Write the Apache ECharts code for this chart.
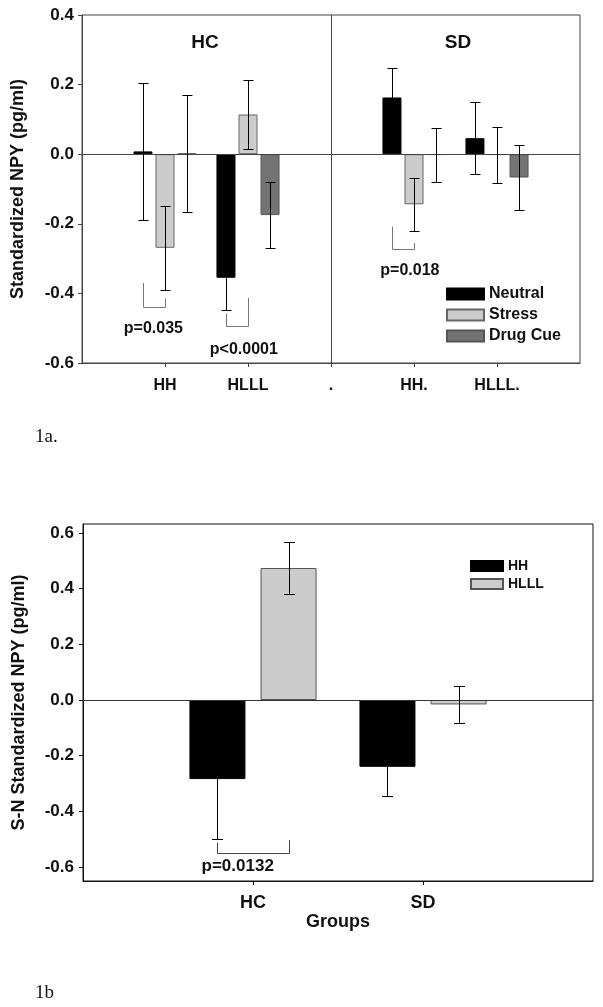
<!DOCTYPE html>
<html><head><meta charset="utf-8">
<script src="https://cdn.jsdelivr.net/npm/echarts@6/dist/echarts.min.js"></script>
<style>html,body{margin:0;padding:0;background:#fff}#c{width:603px;height:1007px}</style>
</head><body><div id="c"></div>
<script>
// ---------- Figure 1a ----------
const catsA = ['', 'HH', 'HLLL', '.', 'HH.', 'HLLL.', ''];
const seriesNamesA = ['Neutral', 'Stress', 'Drug Cue'];
const neutralA    = [null, 0.008, -0.355, null, 0.163, 0.046, null];
const neutralErrA = [null, 0.198, 0.092, null, 0.086, 0.104, null];
const stressA     = [null, -0.269, 0.114, null, -0.144, -0.002, null];
const stressErrA  = [null, 0.120, 0.098, null, 0.077, 0.080, null];
const drugA       = [null, 0.002, -0.175, null, -0.002, -0.067, null];
const drugErrA    = [null, 0.167, 0.094, null, 0.078, 0.093, null];
const ticksA = [-0.6, -0.4, -0.2, 0, 0.2, 0.4];
const groupLabelsA = ['HC', 'SD'];
const dividerCatA = 3;
// significance brackets: [category, left-leg top, right-leg top, bottom, text, text y, text shift (bands)]
const bracketsA = [
  [1, -0.370, -0.415, -0.440, 'p=0.035', -0.500, -0.14],
  [2, -0.458, -0.413, -0.494, 'p<0.0001', -0.562, -0.05],
  [4, -0.208, -0.255, -0.273, 'p=0.018', -0.334, -0.05]
];
// ---------- Figure 1b ----------
const catsB = ['', 'HC', 'SD', ''];
const seriesNamesB = ['HH', 'HLLL'];
const hhB       = [null, -0.284, -0.240, null];
const hhErrB    = [null, 0.216, 0.104, null];
const hlllB     = [null, 0.474, -0.016, null];
const hlllErrB  = [null, 0.095, 0.066, null];
const ticksB = [-0.6, -0.4, -0.2, 0, 0.2, 0.4, 0.6];
const bracketsB = [
  [1, -0.513, -0.503, -0.549, 'p=0.0132', -0.596, -0.09]
];
const panelLabels = ['1a.', '1b'];

const SANS = '"Liberation Sans", Arial, sans-serif';
const SERIF = '"Liberation Serif", "Times New Roman", serif';
const TXT = '#111';

const BW_A = 19, GAP_A = 0.16, BW_B = 56, GAP_B = 0.27;
function offset(idx, count, bw, gap) { return (idx - (count - 1) / 2) * bw * (1 + gap); }

function errData(vals, errs) {
  const out = [];
  vals.forEach((v, i) => { if (v != null) out.push([i, v, errs[i]]); });
  return out;
}
function errSeries(vals, errs, idx, count, bw, gap, axis, color, cap) {
  return {
    type: 'custom', xAxisIndex: axis, yAxisIndex: axis, z: 10, silent: true,
    encode: { x: 0, y: 1 },
    data: errData(vals, errs),
    renderItem(params, api) {
      const i = api.value(0), v = api.value(1), e = api.value(2);
      const t = api.coord([i, v + e]), b = api.coord([i, v - e]);
      const x = Math.round(t[0] + offset(idx, count, bw, gap)) + 0.5;
      const yt = Math.round(t[1]) + 0.5, yb = Math.round(b[1]) + 0.5;
      const st = { stroke: color, lineWidth: 1 };
      return { type: 'group', children: [
        { type: 'line', shape: { x1: x, y1: yt, x2: x, y2: yb }, style: st },
        { type: 'line', shape: { x1: x - cap, y1: yt, x2: x + cap, y2: yt }, style: st },
        { type: 'line', shape: { x1: x - cap, y1: yb, x2: x + cap, y2: yb }, style: st }
      ]};
    }
  };
}
function bracketSeries(list, axis, count, bw, gap, color, fs) {
  return {
    type: 'custom', xAxisIndex: axis, yAxisIndex: axis, z: 11, silent: true,
    encode: { x: 0, y: 1 },
    data: list.map(b => [b[0], b[3]]),
    renderItem(params, api) {
      const b = list[params.dataIndex];
      const cx = api.coord([b[0], 0])[0];
      const band = api.size([1, 0])[0];
      const xl = Math.round(cx + offset(0, count, bw, gap)) + 0.5, xr = Math.round(cx + offset(1, count, bw, gap)) + 0.5;
      const yl = api.coord([b[0], b[1]])[1], yr = api.coord([b[0], b[2]])[1], yb = Math.round(api.coord([b[0], b[3]])[1]) + 0.5;
      const ty = api.coord([b[0], b[5]])[1];
      const st = { stroke: color, lineWidth: 1 };
      return { type: 'group', children: [
        { type: 'line', shape: { x1: xl, y1: yl, x2: xl, y2: yb }, style: st },
        { type: 'line', shape: { x1: xl, y1: yb, x2: xr, y2: yb }, style: st },
        { type: 'line', shape: { x1: xr, y1: yr, x2: xr, y2: yb }, style: st },
        { type: 'text', x: cx + b[6] * band, y: ty, style: { text: b[4], fill: TXT, fontSize: fs, fontWeight: 'bold', fontFamily: SANS, align: 'center', verticalAlign: 'middle' } }
      ]};
    }
  };
}
// reference lines: zero line across the grid, optional vertical divider at a category
function refLines(axis, nCats, divider, color) {
  return {
    type: 'custom', xAxisIndex: axis, yAxisIndex: axis, z: 5, silent: true,
    encode: { x: 0, y: 1 },
    data: [[0, 0]],
    renderItem(params, api) {
      const a = api.coord([0, 0]), b = api.coord([nCats - 1, 0]);
      const y = Math.round(a[1]) + 0.5;
      const st = { stroke: color, lineWidth: 1 };
      const kids = [{ type: 'line', shape: { x1: a[0], y1: y, x2: b[0], y2: y }, style: st }];
      if (divider != null) {
        const cs = params.coordSys;
        const x = Math.round(api.coord([divider, 0])[0]) + 0.5;
        kids.push({ type: 'line', shape: { x1: x, y1: cs.y, x2: x, y2: cs.y + cs.height }, style: st });
      }
      return { type: 'group', children: kids };
    }
  };
}
function bar(name, data, axis, fill, border, bw, gap) {
  return { name, type: 'bar', xAxisIndex: axis, yAxisIndex: axis, data, barWidth: bw, barGap: (gap * 100) + '%',
    itemStyle: { color: fill, borderColor: border, borderWidth: 1 } };
}

const chart = echarts.init(document.getElementById('c'), null, { renderer: 'canvas' });
const lineA = '#444', lineB = '#111';

const option = {
  animation: false,
  backgroundColor: '#fff',
  grid: [
    { left: 82, top: 15, right: 23, bottom: 644, show: true, borderColor: lineA, borderWidth: 1 },
    { left: 83, top: 524, right: 10, bottom: 126, show: true, borderColor: lineB, borderWidth: 1 }
  ],
  xAxis: [
    { type: 'category', gridIndex: 0, data: catsA, boundaryGap: false,
      axisLine: { onZero: false, lineStyle: { color: lineA } },
      axisTick: { length: 4, lineStyle: { color: lineA }, interval: (i) => i >= 1 && i <= 5 },
      axisLabel: { interval: 0, margin: 15, color: TXT, fontSize: 16, fontWeight: 'bold', fontFamily: SANS },
      splitLine: { show: false } },
    { type: 'category', gridIndex: 1, data: catsB, boundaryGap: false,
      name: 'Groups', nameLocation: 'middle', nameGap: 28,
      nameTextStyle: { color: TXT, fontSize: 18, fontWeight: 'bold', fontFamily: SANS },
      axisLine: { onZero: false, lineStyle: { color: lineB } },
      axisTick: { length: 4, lineStyle: { color: lineB }, interval: (i) => i >= 1 && i <= 2 },
      axisLabel: { interval: 0, margin: 13, color: TXT, fontSize: 18, fontWeight: 'bold', fontFamily: SANS },
      splitLine: { show: false } }
  ],
  yAxis: [
    { type: 'value', gridIndex: 0, min: -0.6, max: 0.4, interval: 0.2,
      name: 'Standardized NPY (pg/ml)', nameLocation: 'middle', nameGap: 55,
      nameTextStyle: { color: TXT, fontSize: 18, fontWeight: 'bold', fontFamily: SANS },
      axisLine: { show: true, onZero: false, lineStyle: { color: lineA } },
      axisTick: { show: true, length: 4, lineStyle: { color: lineA } },
      axisLabel: { margin: 8, color: TXT, fontSize: 17, fontWeight: 'bold', fontFamily: SANS, formatter: v => v.toFixed(1) },
      splitLine: { show: false } },
    { type: 'value', gridIndex: 1, min: -0.65, max: 0.632,
      name: 'S-N Standardized NPY (pg/ml)', nameLocation: 'middle', nameGap: 55,
      nameTextStyle: { color: TXT, fontSize: 18, fontWeight: 'bold', fontFamily: SANS },
      axisLine: { show: true, onZero: false, lineStyle: { color: lineB } },
      axisTick: { show: true, length: 4, lineStyle: { color: lineB }, customValues: ticksB },
      axisLabel: { margin: 9, color: TXT, fontSize: 17, fontWeight: 'bold', fontFamily: SANS, customValues: ticksB, formatter: v => v.toFixed(1) },
      splitLine: { show: false } }
  ],
  legend: [
    { data: seriesNamesA, orient: 'vertical', left: 441, top: 281, itemWidth: 37, itemHeight: 11, itemGap: 5,
      icon: 'rect', selectedMode: false,
      textStyle: { color: TXT, fontSize: 16, fontWeight: 'bold', fontFamily: SANS } },
    { data: seriesNamesB, orient: 'vertical', left: 465, top: 554, itemWidth: 32, itemHeight: 10, itemGap: 4,
      icon: 'rect', selectedMode: false,
      textStyle: { color: TXT, fontSize: 14, fontWeight: 'bold', fontFamily: SANS } }
  ],
  graphic: [
    { type: 'text', x: 205, y: 43, style: { text: groupLabelsA[0], fill: TXT, fontSize: 19, fontWeight: 'bold', fontFamily: SANS, align: 'center', verticalAlign: 'middle' } },
    { type: 'text', x: 458, y: 43, style: { text: groupLabelsA[1], fill: TXT, fontSize: 19, fontWeight: 'bold', fontFamily: SANS, align: 'center', verticalAlign: 'middle' } },
    { type: 'text', x: 35, y: 437, style: { text: panelLabels[0], fill: TXT, fontSize: 19, fontFamily: SERIF, align: 'left', verticalAlign: 'middle' } },
    { type: 'text', x: 35, y: 993, style: { text: panelLabels[1], fill: TXT, fontSize: 19, fontFamily: SERIF, align: 'left', verticalAlign: 'middle' } }
  ],
  series: [
    bar(seriesNamesA[0], neutralA, 0, '#000000', '#000000', BW_A, GAP_A),
    bar(seriesNamesA[1], stressA, 0, '#cccccc', '#666666', BW_A, GAP_A),
    bar(seriesNamesA[2], drugA, 0, '#747474', '#555555', BW_A, GAP_A),
    refLines(0, catsA.length, dividerCatA, lineA),
    errSeries(neutralA, neutralErrA, 0, 3, BW_A, GAP_A, 0, '#000', 5),
    errSeries(stressA, stressErrA, 1, 3, BW_A, GAP_A, 0, '#000', 5),
    errSeries(drugA, drugErrA, 2, 3, BW_A, GAP_A, 0, '#000', 5),
    bracketSeries(bracketsA, 0, 3, BW_A, GAP_A, '#777', 16),
    bar(seriesNamesB[0], hhB, 1, '#000000', '#000000', BW_B, GAP_B),
    bar(seriesNamesB[1], hlllB, 1, '#cccccc', '#555555', BW_B, GAP_B),
    refLines(1, catsB.length, null, '#333'),
    errSeries(hhB, hhErrB, 0, 2, BW_B, GAP_B, 1, '#000', 5.5),
    errSeries(hlllB, hlllErrB, 1, 2, BW_B, GAP_B, 1, '#000', 5.5),
    bracketSeries(bracketsB, 1, 2, BW_B, GAP_B, '#444', 17)
  ]
};
chart.setOption(option);
</script></body></html>
